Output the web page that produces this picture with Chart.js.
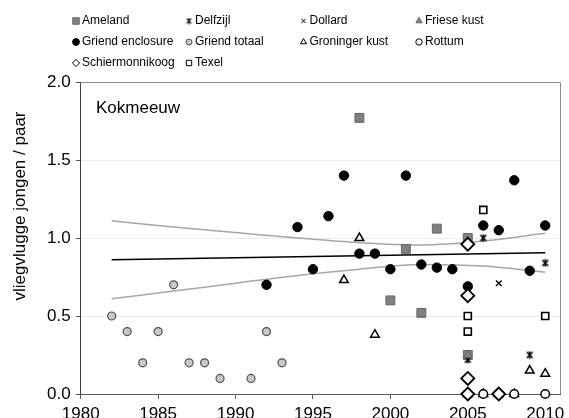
<!DOCTYPE html>
<html>
<head>
<meta charset="utf-8">
<script src="https://cdn.jsdelivr.net/npm/chart.js@4/dist/chart.umd.min.js"></script>
<style>
  html, body { margin: 0; padding: 0; background: #fff; }
  #wrap { width: 569px; height: 418px; }
</style>
</head>
<body>
<div id="wrap"><canvas id="chart" width="569" height="418"></canvas></div>
<script>
// Kokmeeuw breeding success (fledglings per pair) per colony
const xTicks = [1980, 1985, 1990, 1995, 2000, 2005, 2010];
const yTicks = [0, 0.5, 1.0, 1.5, 2.0];

const amelandYears = [1998, 2000, 2001, 2002, 2003, 2005, 2005];
const amelandValues = [1.77, 0.60, 0.93, 0.52, 1.06, 1.00, 0.25];

const delfzijlYears = [2005, 2005, 2006, 2007, 2009, 2010];
const delfzijlValues = [0.22, 0.00, 1.00, 0.00, 0.25, 0.84];

const dollardYears = [2005, 2007, 2007];
const dollardValues = [0.00, 0.71, 0.00];

const frieseKustYears = [2005, 2005, 2006, 2008];
const frieseKustValues = [0.25, 0.00, 0.00, 0.00];

const griendEnclosureYears = [1992, 1994, 1995, 1996, 1997, 1998, 1999, 2000, 2001, 2002, 2003, 2004, 2005, 2006, 2007, 2008, 2009, 2010];
const griendEnclosureValues = [0.70, 1.07, 0.80, 1.14, 1.40, 0.90, 0.90, 0.80, 1.40, 0.83, 0.81, 0.80, 0.69, 1.08, 1.05, 1.37, 0.79, 1.08];

const griendTotaalYears = [1982, 1983, 1984, 1985, 1986, 1987, 1988, 1989, 1991, 1992, 1993];
const griendTotaalValues = [0.50, 0.40, 0.20, 0.40, 0.70, 0.20, 0.20, 0.10, 0.10, 0.40, 0.20];

const groningerKustYears = [1997, 1998, 1999, 2005, 2006, 2007, 2008, 2009, 2010];
const groningerKustValues = [0.73, 1.00, 0.38, 0.00, 0.00, 0.00, 0.00, 0.15, 0.13];

const rottumYears = [2005, 2006, 2007, 2008, 2010];
const rottumValues = [0.00, 0.00, 0.00, 0.00, 0.00];

const schiermonnikoogYears = [2005, 2005, 2005, 2005, 2007];
const schiermonnikoogValues = [0.96, 0.63, 0.10, 0.00, 0.00];

const texelYears = [2005, 2005, 2006, 2010];
const texelValues = [0.50, 0.40, 1.18, 0.50];

// overall trend with its confidence band
const trendYears = [1982, 2010];
const trendValues = [0.86, 0.905];
const bandYears = [1982, 1986, 1990, 1994, 1998, 2002, 2006, 2010];
const bandUpper = [1.11, 1.07, 1.035, 1.00, 0.97, 0.955, 0.98, 1.03];
const bandLower = [0.61, 0.66, 0.71, 0.76, 0.80, 0.83, 0.82, 0.78];

const FONT = "'Liberation Sans', Arial, sans-serif";

function pairs(xs, ys) { return xs.map((x, i) => ({ x: x, y: ys[i] })); }

// asterisk marker: diagonal cross with a vertical stroke
function makeStar(size, lw) {
  const c = document.createElement('canvas');
  c.width = size; c.height = size;
  const g = c.getContext('2d');
  const m = size / 2, r = size / 2 - lw / 2, a = r * 0.8;
  g.strokeStyle = '#000';
  g.lineWidth = lw;
  g.beginPath();
  g.moveTo(m - a, m - a); g.lineTo(m + a, m + a);
  g.moveTo(m + a, m - a); g.lineTo(m - a, m + a);
  g.moveTo(m, m - r); g.lineTo(m, m + r);
  g.stroke();
  return c;
}
const starPlot = makeStar(9, 1.6);
const starLegend = makeStar(7, 1.1);

const series = [
  { label: 'Ameland', xs: amelandYears, ys: amelandValues, style: 'rect', r: 6.3, lr: 4.6, bg: '#808080', bc: '#666666', bw: 1 },
  { label: 'Delfzijl', xs: delfzijlYears, ys: delfzijlValues, style: starPlot, legendStyle: starLegend, r: 4.5, lr: 3.5, bg: '#000', bc: '#000', bw: 0 },
  { label: 'Dollard', xs: dollardYears, ys: dollardValues, style: 'crossRot', r: 4, lr: 3, bg: '#000', bc: '#000', bw: 1.4 },
  { label: 'Friese kust', xs: frieseKustYears, ys: frieseKustValues, style: 'triangle', r: 5, lr: 3.6, bg: '#808080', bc: '#666666', bw: 1 },
  { label: 'Griend enclosure', xs: griendEnclosureYears, ys: griendEnclosureValues, style: 'circle', r: 4.7, lr: 3.4, bg: '#000', bc: '#000', bw: 1 },
  { label: 'Griend totaal', xs: griendTotaalYears, ys: griendTotaalValues, style: 'circle', r: 4, lr: 3, bg: '#c8c8c8', bc: '#505050', bw: 1.2 },
  { label: 'Groninger kust', xs: groningerKustYears, ys: groningerKustValues, style: 'triangle', r: 5, lr: 3.5, bg: '#fff', bc: '#000', bw: 1.5 },
  { label: 'Rottum', xs: rottumYears, ys: rottumValues, style: 'circle', r: 4.3, lr: 3.2, bg: '#fff', bc: '#000', bw: 1.5 },
  { label: 'Schiermonnikoog', xs: schiermonnikoogYears, ys: schiermonnikoogValues, style: 'rectRot', r: 6.5, lr: 3.6, bg: '#fff', bc: '#000', bw: 1.8 },
  { label: 'Texel', xs: texelYears, ys: texelValues, style: 'rect', r: 5, lr: 3.8, bg: '#fff', bc: '#000', bw: 1.6 }
];

const pointSets = series.map((s, i) => ({
  label: s.label,
  data: pairs(s.xs, s.ys),
  pointStyle: s.style,
  pointRadius: s.r,
  pointBackgroundColor: s.bg,
  pointBorderColor: s.bc,
  pointBorderWidth: s.bw,
  showLine: false,
  clip: false,
  order: 9 - i
}));

const lineSets = [
  { label: 'band upper', data: pairs(bandYears, bandUpper), borderColor: '#a6a6a6', borderWidth: 1.5, cubicInterpolationMode: 'monotone' },
  { label: 'band lower', data: pairs(bandYears, bandLower), borderColor: '#a6a6a6', borderWidth: 1.5, cubicInterpolationMode: 'monotone' },
  { label: 'trend', data: pairs(trendYears, trendValues), borderColor: '#000', borderWidth: 1.5 }
].map(d => Object.assign(d, { showLine: true, pointRadius: 0, fill: false, order: 20 }));

// draws the plot frame, panel name, axis title and the four-column legend
const decor = {
  id: 'decor',
  beforeDatasetsDraw(chart) {
    const { ctx, chartArea: a } = chart;
    ctx.save();
    ctx.strokeStyle = '#8c8c8c';
    ctx.lineWidth = 1;
    ctx.beginPath();
    ctx.moveTo(a.left, Math.round(a.top) + 0.5);
    ctx.lineTo(Math.round(a.right) - 0.5, Math.round(a.top) + 0.5);
    ctx.lineTo(Math.round(a.right) - 0.5, a.bottom);
    ctx.stroke();
    ctx.restore();
  },
  afterDraw(chart) {
    const ctx = chart.ctx;
    ctx.save();
    ctx.fillStyle = '#000';
    ctx.font = '17px ' + FONT;
    ctx.textAlign = 'left';
    ctx.textBaseline = 'middle';
    ctx.fillText('Kokmeeuw', 96, 108);

    ctx.save();
    ctx.translate(20, 206);
    ctx.rotate(-Math.PI / 2);
    ctx.textAlign = 'center';
    ctx.fillText('vliegvlugge jongen / paar', 0, 0);
    ctx.restore();

    const colX = [76, 189, 303.5, 419];
    const rowY = [21, 42, 63];
    ctx.font = '12px ' + FONT;
    series.forEach((s, i) => {
      const x = colX[i % 4], y = rowY[Math.floor(i / 4)];
      ctx.fillStyle = s.bg;
      ctx.strokeStyle = s.bc;
      ctx.lineWidth = 1;
      const style = s.legendStyle || s.style;
      if (Chart.helpers && Chart.helpers.drawPoint) {
        Chart.helpers.drawPoint(ctx, { pointStyle: style, radius: s.lr, rotation: 0, borderWidth: s.bw > 0 ? 1 : 0 }, x, y);
      }
      ctx.fillStyle = '#000';
      ctx.textAlign = 'left';
      ctx.textBaseline = 'middle';
      ctx.fillText(s.label, x + 6, y);
    });
    ctx.restore();
  }
};

new Chart(document.getElementById('chart'), {
  type: 'scatter',
  data: { datasets: pointSets.concat(lineSets) },
  plugins: [decor],
  options: {
    responsive: false,
    devicePixelRatio: 1,
    animation: false,
    layout: { padding: { top: 82, right: 1.6, left: 0, bottom: 0 } },
    plugins: { legend: { display: false }, tooltip: { enabled: false } },
    scales: {
      x: {
        type: 'linear',
        min: 1980,
        max: 2011,
        afterBuildTicks: s => { s.ticks = xTicks.map(v => ({ value: v })); },
        afterFit: s => { s.height = 24; s.paddingLeft = 0; s.paddingRight = 0; },
        ticks: { color: '#000', font: { family: FONT, size: 17 }, padding: 5, maxRotation: 0, autoSkip: false, callback: v => String(v) },
        grid: { drawOnChartArea: false, tickLength: 5, tickColor: '#595959' },
        border: { color: '#595959', width: 1 }
      },
      y: {
        min: 0,
        max: 2,
        afterBuildTicks: s => { s.ticks = yTicks.map(v => ({ value: v })); },
        afterFit: s => { s.width = 80.7; s.paddingTop = 0; s.paddingBottom = 0; },
        ticks: { color: '#000', font: { family: FONT, size: 17 }, padding: 5, callback: v => Number(v).toFixed(1) },
        grid: {
          color: c => (c.tick && c.tick.value > 0 && c.tick.value < 2) ? '#ebebeb' : 'rgba(0,0,0,0)',
          tickLength: 5,
          tickColor: '#595959'
        },
        border: { color: '#404040', width: 1 }
      }
    }
  }
});
</script>
</body>
</html>
